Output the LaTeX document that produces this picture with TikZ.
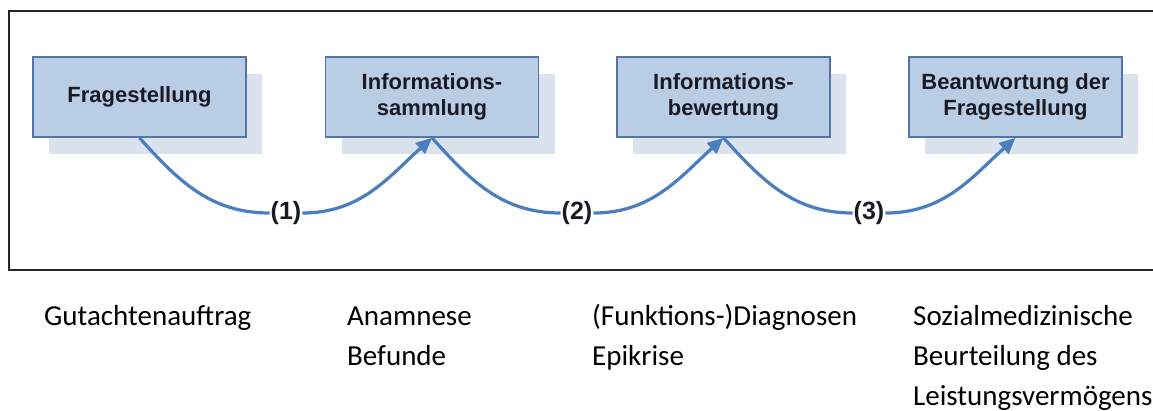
\documentclass[tikz,border=0pt]{standalone}
\usepackage{fontspec}
\setmainfont{Carlito}
\newfontfamily\arialfont{Liberation Sans}
\usetikzlibrary{arrows.meta,shadows}
\definecolor{boxfill}{HTML}{B9CDE5}
\definecolor{boxline}{HTML}{5376AA}
\definecolor{shadowc}{HTML}{DAE2EE}
\definecolor{curvec}{HTML}{4A7EBF}
\definecolor{boxtext}{HTML}{1A1A22}
\begin{document}
\begin{tikzpicture}[x=1pt,y=1pt,
  stepbox/.style={draw=boxline, line width=1.7pt, fill=boxfill,
    minimum width=213pt, minimum height=80pt, inner sep=0pt, align=center,
    font=\arialfont\bfseries\fontsize{22}{26}\selectfont, text=boxtext,
    drop shadow={shadow xshift=16pt, shadow yshift=-17pt, fill=shadowc, draw=none, opacity=1}},
  numlabel/.style={font=\arialfont\bfseries\fontsize{25}{28}\selectfont, text=boxtext, inner sep=1pt},
  flow/.style={draw=curvec, line width=3.2pt},
  flowarrow/.style={flow, -{Triangle[length=16pt,width=14pt]}},
  caption/.style={anchor=base west, inner sep=0pt, font=\fontsize{29}{40}\selectfont, text=black}]
\useasboundingbox (0,0) rectangle (1153,-410);
\draw[line width=1.5pt, black!85] (1153,-11) -- (9,-11) -- (9,-270) -- (1153,-270);

\node[stepbox] (b1) at (139.5,-97) {Fragestellung};
\node[stepbox] (b2) at (432,-97) {Informations-\\sammlung};
\node[stepbox] (b3) at (723.5,-97) {Informations-\\bewertung};
\node[stepbox] (b4) at (1015.5,-97) {Beantwortung der\\Fragestellung};

\node[numlabel] (l1) at (286,-213) {(1)};
\node[numlabel] (l2) at (577,-213) {(2)};
\node[numlabel] (l3) at (869,-213) {(3)};

\draw[flow] (b1.south) to[out=-48,in=180] (l1.west);
\draw[flowarrow] (l1.east) to[out=0,in=-138] (b2.south);
\draw[flow] (b2.south) to[out=-48,in=180] (l2.west);
\draw[flowarrow] (l2.east) to[out=0,in=-138] (b3.south);
\draw[flow] (b3.south) to[out=-48,in=180] (l3.west);
\draw[flowarrow] (l3.east) to[out=0,in=-138] (b4.south);

\node[caption] (c1) at (44,-325) {Gutachtenauftrag};
\node[caption] (c2a) at (347,-325) {Anamnese};
\node[caption] (c2b) at (347,-365) {Befunde};
\node[caption] (c3a) at (592,-325) {(Funktions-)Diagnosen};
\node[caption] (c3b) at (592,-365) {Epikrise};
\node[caption] (c4a) at (913,-325) {Sozialmedizinische};
\node[caption] (c4b) at (913,-365) {Beurteilung des};
\node[caption] (c4c) at (913,-405) {Leistungsvermögens};
\end{tikzpicture}
\end{document}
